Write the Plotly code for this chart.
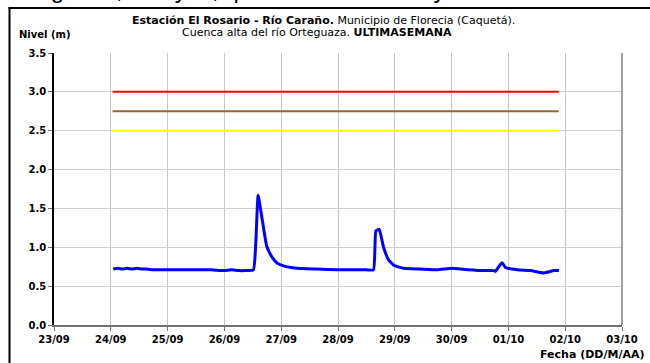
import plotly.graph_objects as go

# Water level series
times = [
    "2012-09-24 01:00", "2012-09-24 03:00", "2012-09-24 05:00", "2012-09-24 07:00",
    "2012-09-24 09:00", "2012-09-24 11:00", "2012-09-24 13:00", "2012-09-24 15:00",
    "2012-09-24 18:00", "2012-09-24 21:00", "2012-09-25 00:00", "2012-09-25 06:00",
    "2012-09-25 12:00", "2012-09-25 18:00", "2012-09-26 00:00", "2012-09-26 03:00",
    "2012-09-26 06:00", "2012-09-26 09:00", "2012-09-26 12:15", "2012-09-26 13:15",
    "2012-09-26 14:15", "2012-09-26 15:45", "2012-09-26 17:55", "2012-09-26 20:00",
    "2012-09-26 22:10", "2012-09-27 01:00", "2012-09-27 06:30", "2012-09-27 15:00",
    "2012-09-28 00:00", "2012-09-28 06:00", "2012-09-28 12:00", "2012-09-28 15:00",
    "2012-09-28 16:00", "2012-09-28 17:25", "2012-09-28 19:15", "2012-09-28 21:20",
    "2012-09-28 23:30", "2012-09-29 03:45", "2012-09-29 10:45", "2012-09-29 17:50",
    "2012-09-30 00:15", "2012-09-30 03:45", "2012-09-30 12:10", "2012-09-30 17:50",
    "2012-09-30 18:30", "2012-09-30 19:55", "2012-09-30 21:20", "2012-09-30 22:45",
    "2012-10-01 03:45", "2012-10-01 09:20", "2012-10-01 15:00", "2012-10-01 19:10",
    "2012-10-01 21:20",
]
nivel = [
    0.72, 0.73, 0.72, 0.73,
    0.72, 0.73, 0.72, 0.72,
    0.71, 0.71, 0.71, 0.71,
    0.71, 0.71, 0.70, 0.71,
    0.70, 0.70, 0.71, 1.05,
    1.67, 1.40, 1.01, 0.88,
    0.80, 0.76, 0.73, 0.72,
    0.71, 0.71, 0.71, 0.71,
    1.21, 1.23, 1.00, 0.84,
    0.77, 0.73, 0.72, 0.71,
    0.73, 0.72, 0.70, 0.70,
    0.69, 0.75, 0.80, 0.74,
    0.71, 0.70, 0.67, 0.70,
    0.70,
]

# Threshold lines
umbral_times = ["2012-09-24 00:45", "2012-10-01 21:15"]
umbral_rojo = [3.0, 3.0]
umbral_cafe = [2.75, 2.75]
umbral_amarillo = [2.5, 2.5]

x_range = ["2012-09-23", "2012-10-03"]
y_range = [0, 3.5]

FONT = "DejaVu Sans"

fig = go.Figure()
fig.add_trace(go.Scatter(x=umbral_times, y=umbral_rojo, mode="lines",
                         line=dict(color="#FF0000", width=2), showlegend=False))
fig.add_trace(go.Scatter(x=umbral_times, y=umbral_cafe, mode="lines",
                         line=dict(color="#996633", width=2), showlegend=False))
fig.add_trace(go.Scatter(x=umbral_times, y=umbral_amarillo, mode="lines",
                         line=dict(color="#FFFF00", width=2), showlegend=False))
fig.add_trace(go.Scatter(x=times, y=nivel, mode="lines",
                         line=dict(color="#0000FF", width=3, shape="spline", smoothing=0.4),
                         showlegend=False))

L, R, T, B = 54, 28, 53, 38
PH = 363 - T - B
PW = 650 - L - R

def py(pix):
    return (363 - B - pix) / PH

def px(pix):
    return (pix - L) / PW

fig.update_layout(
    width=650, height=363,
    margin=dict(l=L, r=R, t=T, b=B, pad=0),
    paper_bgcolor="white", plot_bgcolor="white",
    font=dict(family=FONT, color="black"),
    xaxis=dict(
        type="date", range=x_range, dtick=86400000, tickformat="%d/%m",
        showgrid=True, gridcolor="#C8C8C8", gridwidth=1,
        showline=True, linecolor="#707070", linewidth=2,
        ticks="outside", ticklen=4, tickcolor="#707070",
        tickfont=dict(family=FONT, size=10, color="black", weight="bold"),
        zeroline=False,
    ),
    yaxis=dict(
        range=y_range, dtick=0.5, tickformat=".1f",
        showgrid=True, gridcolor="#D0D0D0", gridwidth=1,
        showline=True, linecolor="black", linewidth=1.5,
        ticks="outside", ticklen=4, tickcolor="#707070",
        tickfont=dict(family=FONT, size=10, color="black", weight="bold"),
        zeroline=False,
    ),
    shapes=[
        dict(type="line", xref="paper", yref="paper",
             x0=px(9.5), x1=px(9.5), y0=py(363), y1=py(7),
             line=dict(color="black", width=2)),
        dict(type="line", xref="paper", yref="paper",
             x0=px(8.5), x1=px(650), y0=py(8), y1=py(8),
             line=dict(color="black", width=2)),
        dict(type="line", xref="paper", yref="paper", x0=1, x1=1, y0=0, y1=1,
             line=dict(color="#A0A0A0", width=2)),
    ],
    annotations=[
        dict(text="Orteguaza, Guayas, quebrada la Perdiz y sus afluentes.",
             xref="paper", yref="paper", x=px(2), y=py(5.5),
             xanchor="left", yanchor="bottom", showarrow=False,
             font=dict(family="Liberation Sans", size=24, color="black")),
        dict(text="<b>Estación El Rosario - Río Caraño.</b> Municipio de Florecia (Caquetá).",
             xref="paper", yref="paper", x=px(323), y=py(20),
             xanchor="center", yanchor="middle", showarrow=False,
             font=dict(family=FONT, size=11, color="black")),
        dict(text="Cuenca alta del río Orteguaza. <b>ULTIMASEMANA</b>",
             xref="paper", yref="paper", x=px(317), y=py(32.5),
             xanchor="center", yanchor="middle", showarrow=False,
             font=dict(family=FONT, size=11, color="black")),
        dict(text="<b>Nivel (m)</b>",
             xref="paper", yref="paper", x=px(17), y=py(34),
             xanchor="left", yanchor="middle", showarrow=False,
             font=dict(family=FONT, size=10, color="black")),
        dict(text="<b>Fecha (DD/M/AA)</b>",
             xref="paper", yref="paper", x=px(646), y=py(354),
             xanchor="right", yanchor="middle", showarrow=False,
             font=dict(family=FONT, size=11, color="black")),
    ],
)

fig.write_html("out.html", config={"displayModeBar": False},
               post_script="document.body.style.margin='0';document.body.style.overflow='hidden';")
